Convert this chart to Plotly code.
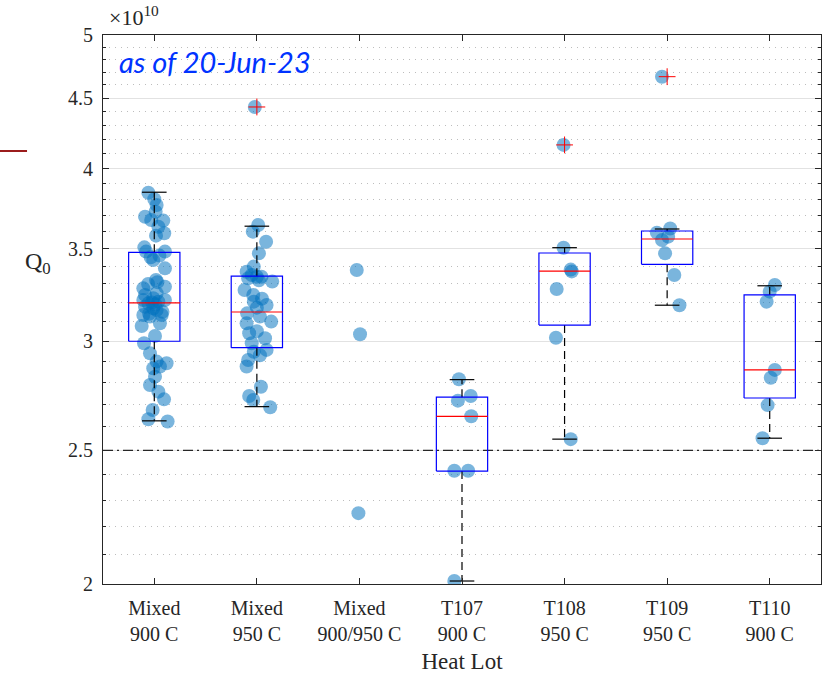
import math
import plotly.graph_objects as go

# ---------------- data (Q0 in units of 1e10) ----------------
categories = ["Mixed<br>900 C", "Mixed<br>950 C", "Mixed<br>900/950 C",
              "T107<br>900 C", "T108<br>950 C", "T109<br>950 C", "T110<br>900 C"]

g1_vals = [3.843, 3.801, 3.765, 3.723, 3.692, 3.672, 3.668, 3.631, 3.591, 3.577,
           3.508, 3.483, 3.450, 3.483, 3.435, 3.387, 3.322, 3.276, 3.285, 3.240,
           3.249, 3.222, 3.213, 3.195, 3.204, 3.213, 3.177, 3.169, 3.133, 3.133,
           3.160, 3.125, 3.090, 3.076, 3.026, 2.989, 2.939, 2.899, 2.891, 2.867,
           2.875, 2.827, 2.788, 2.757, 2.722, 2.674, 2.633, 2.623,
           3.460, 3.300, 3.310, 3.150, 3.140, 3.200, 3.190]
g1_jit = [-0.058, 0.0, 0.023, 0.013, -0.09, -0.03, 0.088, 0.04, 0.097, 0.017,
          -0.097, -0.08, -0.035, 0.104, -0.01, 0.104, 0.017, -0.107, 0.104, -0.09,
          0.023, -0.01, -0.107, -0.058, 0.04, 0.104, -0.09, -0.01, -0.107, 0.072,
          0.023, -0.042, 0.055, -0.123, 0.007, -0.1, -0.042, 0.023, 0.12, -0.01,
          0.055, 0.007, -0.042, 0.04, 0.095, -0.016, -0.058, 0.13,
          0.05, -0.06, 0.03, 0.08, -0.05, -0.02, 0.01]

g2_vals = [3.641, 3.601, 3.541, 3.473, 3.397, 3.368, 3.340, 3.331, 3.313, 3.340,
           3.267, 3.240, 3.204, 3.186, 3.172, 3.142, 3.125, 3.099, 3.090, 3.039,
           3.014, 2.989, 2.956, 2.947, 2.907, 2.875, 2.780, 2.737, 2.719, 2.686,
           3.350, 3.320, 3.220, 2.930, 3.050, 4.434]
g2_jit = [0.013, -0.04, 0.09, 0.02, -0.03, -0.10, 0.045, -0.085, 0.15, 0.0,
          -0.12, -0.035, -0.03, 0.095, 0.0, -0.095, 0.03, 0.14, -0.1, -0.075,
          0.08, -0.05, 0.095, -0.03, -0.085, -0.1, 0.04, -0.075, -0.035, 0.13,
          -0.05, 0.02, 0.05, 0.03, 0.0, -0.02]

g3_vals = [3.378, 3.034, 2.251]
g3_jit = [-0.026, 0.006, -0.01]

g4_vals = [2.815, 2.716, 2.737, 2.646, 2.416, 2.416, 2.010]
g4_jit = [-0.03, -0.04, 0.085, 0.09, -0.075, 0.06, -0.075]

g5_vals = [3.506, 3.380, 3.370, 3.272, 3.017, 2.547, 4.162]
g5_jit = [-0.01, 0.06, 0.07, -0.077, -0.084, 0.06, -0.01]

g6_vals = [3.595, 3.620, 3.571, 3.551, 3.473, 3.350, 3.185, 4.664]
g6_jit = [-0.1, 0.03, 0.01, -0.05, -0.02, 0.07, 0.12, -0.05]

g7_vals = [3.294, 3.258, 3.204, 2.859, 2.822, 2.696, 2.551]
g7_jit = [0.05, 0.0, -0.03, 0.05, 0.01, -0.02, -0.07]

group_vals = [g1_vals, g2_vals, g3_vals, g4_vals, g5_vals, g6_vals, g7_vals]
group_jit = [g1_jit, g2_jit, g3_jit, g4_jit, g5_jit, g6_jit, g7_jit]

# box statistics (None = no box drawn)
box_q1 = [2.999, 2.967, None, 2.415, 3.081, 3.410, 2.728]
box_med = [3.197, 3.149, None, 2.646, 3.372, 3.557, 2.859]
box_q3 = [3.479, 3.343, None, 2.732, 3.475, 3.605, 3.240]
whisk_lo = [2.626, 2.689, None, 2.010, 2.547, 3.185, 2.551]
whisk_hi = [3.846, 3.634, None, 2.813, 3.506, 3.617, 3.290]

outlier_cat = [2, 5, 6]
outlier_vals = [4.434, 4.162, 4.664]

threshold = 2.5

y_major = [2, 2.5, 3, 3.5, 4, 4.5, 5]
y_minor = [2.1, 2.2, 2.3, 2.4, 2.6, 2.7, 2.8, 2.9, 3.1, 3.2, 3.3, 3.4,
           3.6, 3.7, 3.8, 3.9, 4.1, 4.2, 4.3, 4.4, 4.6, 4.7, 4.8, 4.9]

# ---------------- figure ----------------
FONT = "Liberation Serif"
fig = go.Figure()

# jittered points
px, py = [], []
for i, (vals, jit) in enumerate(zip(group_vals, group_jit)):
    for v, j in zip(vals, jit):
        px.append(i + 1 + j)
        py.append(v)
fig.add_trace(go.Scatter(x=px, y=py, mode="markers",
                         marker=dict(size=14, color="rgba(0,114,189,0.52)", line=dict(width=0)),
                         hoverinfo="y", showlegend=False))

# threshold line
fig.add_trace(go.Scatter(x=[0.5, 7.5], y=[threshold, threshold], mode="lines",
                         line=dict(color="#262626", width=1.2, dash="10px,4px,2px,4px"),
                         hoverinfo="skip", showlegend=False))

bw = 0.25
cw = 0.12
bx, by, mx, my, wx, wy, cx, cy = [], [], [], [], [], [], [], []
for i in range(len(categories)):
    if box_q1[i] is None:
        continue
    c = i + 1
    bx += [c - bw, c + bw, c + bw, c - bw, c - bw, None]
    by += [box_q1[i], box_q1[i], box_q3[i], box_q3[i], box_q1[i], None]
    mx += [c - bw, c + bw, None]
    my += [box_med[i], box_med[i], None]
    wx += [c, c, None, c, c, None]
    wy += [box_q3[i], whisk_hi[i], None, box_q1[i], whisk_lo[i], None]
    cx += [c - cw, c + cw, None, c - cw, c + cw, None]
    cy += [whisk_hi[i], whisk_hi[i], None, whisk_lo[i], whisk_lo[i], None]

fig.add_trace(go.Scatter(x=wx, y=wy, mode="lines",
                         line=dict(color="#000000", width=1.2, dash="8px,5px"),
                         hoverinfo="skip", showlegend=False))
fig.add_trace(go.Scatter(x=cx, y=cy, mode="lines",
                         line=dict(color="#000000", width=1.2),
                         hoverinfo="skip", showlegend=False))
fig.add_trace(go.Scatter(x=bx, y=by, mode="lines",
                         line=dict(color="#0000ff", width=1.2),
                         hoverinfo="skip", showlegend=False))
fig.add_trace(go.Scatter(x=mx, y=my, mode="lines",
                         line=dict(color="#ff0000", width=1.2),
                         hoverinfo="skip", showlegend=False))

# outliers
fig.add_trace(go.Scatter(x=outlier_cat, y=outlier_vals, mode="markers",
                         marker=dict(symbol="cross-thin", size=12,
                                     line=dict(color="#ff0000", width=1)),
                         hoverinfo="y", showlegend=False))

fig.update_layout(
    width=833, height=676,
    margin=dict(l=103, r=12, t=35, b=92),
    paper_bgcolor="white", plot_bgcolor="white",
    font=dict(family=FONT, size=20, color="#262626"),
    showlegend=False,
    xaxis=dict(
        range=[0.5, 7.5], tickmode="array",
        tickvals=list(range(1, len(categories) + 1)), ticktext=categories,
        ticks="inside", ticklen=6, tickcolor="#262626",
        showline=True, linecolor="#262626", linewidth=1, mirror="allticks",
        showgrid=False, zeroline=False, automargin=False,
        tickfont=dict(family=FONT, size=20, color="#262626"),
        ticklabelstandoff=6,
        title=dict(text="Heat Lot", font=dict(family=FONT, size=23, color="#262626"), standoff=8),
    ),
    yaxis=dict(
        type="log", range=[math.log10(2), math.log10(5)],
        tickmode="array", tickvals=y_major, ticktext=[f"{v:g}" for v in y_major],
        ticks="inside", ticklen=6, tickcolor="#262626",
        showline=True, linecolor="#262626", linewidth=1, mirror="allticks",
        showgrid=True, gridcolor="#e2e2e2", gridwidth=1, zeroline=False, automargin=False,
        tickfont=dict(family=FONT, size=20, color="#262626"),
        ticklabelstandoff=5,
        minor=dict(tickmode="array", tickvals=y_minor, ticks="inside", ticklen=3,
                   tickcolor="#262626", showgrid=True, gridcolor="#bdbdbd",
                   griddash="1px,5px", gridwidth=1),
    ),
)

fig.add_annotation(text="×10<sup>10</sup>", xref="paper", yref="paper",
                   x=0.005, y=1.0, xanchor="left", yanchor="bottom", yshift=3,
                   showarrow=False, font=dict(family=FONT, size=22, color="#262626"))
fig.add_annotation(text="Q<sub>0</sub>", xref="paper", yref="paper",
                   x=-0.07, y=0.585, xanchor="right", yanchor="middle",
                   showarrow=False, font=dict(family=FONT, size=24, color="#262626"))
fig.add_annotation(text="<i>as of 20-Jun-23</i>", xref="paper", yref="paper",
                   x=0.02, y=0.952, xanchor="left", yanchor="middle",
                   showarrow=False, font=dict(family="Lato", size=29, color="#0033ff"))

fig.add_shape(type="line", xref="paper", yref="paper",
              x0=-0.1435, x1=-0.1058, y0=0.7887, y1=0.7887,
              line=dict(color="#9b1c1c", width=2))

fig.write_html("out.html")
